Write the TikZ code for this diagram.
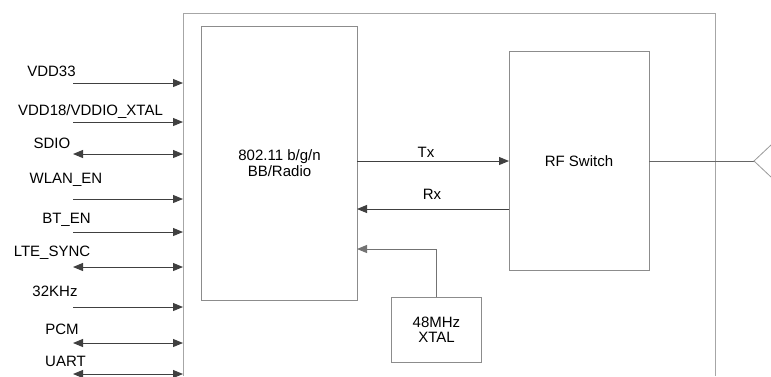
\documentclass[tikz,border=0pt]{standalone}
\usepackage{fontspec}
\setmainfont{Liberation Sans}
\usetikzlibrary{arrows.meta}
\begin{document}
\begin{tikzpicture}[x=1bp,y=-1bp,
  box/.style={draw=black!45,line width=0.9bp},
  sig/.style={draw=black!75,line width=1bp},
  arr/.style={sig,-{Triangle[length=10bp,width=8bp]}},
  darr/.style={sig,{Triangle[length=10bp,width=8bp]}-{Triangle[length=10bp,width=8bp]}},
  lbl/.style={font=\fontsize{15bp}{15.5bp}\selectfont,inner sep=0pt},
  every node/.style={lbl}]
\useasboundingbox (0,0) rectangle (771,376);
% outer chip outline (open at bottom)
\draw[draw=black!35,line width=1bp] (183,376) -- (183,13) -- (715,13) -- (715,376);
% blocks
\node[box,minimum width=156bp,minimum height=274bp,anchor=north west] (bb) at (201,26) {};
\node[align=center] (bbt) at (279.5,163) {802.11 b/g/n\\BB/Radio};
\node[box,minimum width=140bp,minimum height=219bp,anchor=north west] (rf) at (509,51) {};
\node (rft) at (579,161) {RF Switch};
\node[box,minimum width=90bp,minimum height=65bp,anchor=north west,align=center] (xtal) at (391,297) {48MHz\\XTAL};
% internal connections
\coordinate (txs) at (357,161); \coordinate (txe) at (509,161);
\draw[arr] (txs) -- (txe);
\node (tx) at (426,152) {Tx};
\coordinate (rxs) at (509,209); \coordinate (rxe) at (357,209);
\draw[arr] (rxs) -- (rxe);
\node (rx) at (432,194) {Rx};
\coordinate (xe) at (357,249);
\draw[arr,draw=black!55] (xtal.north) |- (xe);
% antenna
\coordinate (ant) at (754,161);
\coordinate (ant1) at (771,145); \coordinate (ant2) at (771,177);
\draw[sig,draw=black!60] (649,161) -- (ant);
\draw[draw=black!40,line width=0.8bp] (ant1) -- (ant) -- (ant2);
% left signals
\foreach \n/\y/\s/\lx/\ly/\t in {
  a/83/arr/51.5/71.5/{VDD33},
  b/122/arr/90.5/112/{VDD18/VDDIO\_XTAL},
  c/154/darr/52/143/{SDIO},
  d/199/arr/66/179.5/{WLAN\_EN},
  e/232/arr/66.5/219.5/{BT\_EN},
  f/267/darr/52/253/{LTE\_SYNC},
  g/307/arr/55/291.5/{32KHz},
  h/343/darr/62/329/{PCM},
  i/374/darr/65.5/361.5/{UART}}{
  \coordinate (\n s) at (73,\y);
  \coordinate (\n e) at (183,\y);
  \draw[\s] (\n s) -- (\n e);
  \node (\n l) at (\lx,\ly) {\t};
}
\end{tikzpicture}
\end{document}
